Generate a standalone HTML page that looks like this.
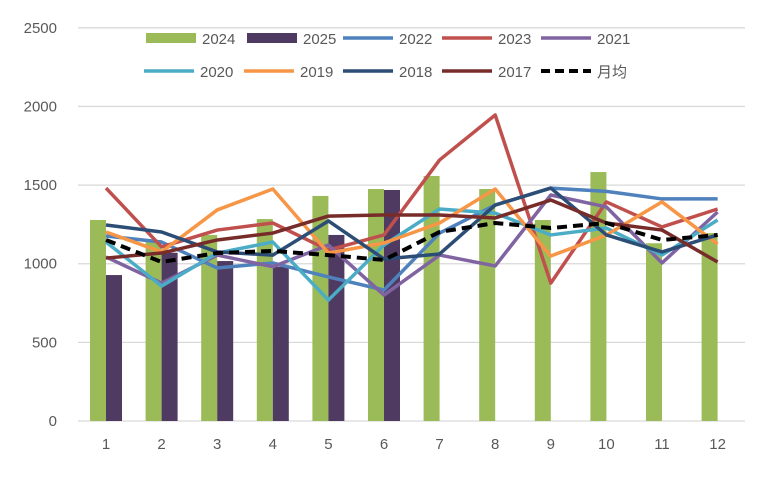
<!DOCTYPE html>
<html><head><meta charset="utf-8"><style>
body{margin:0;background:#fff;font-family:"Liberation Sans","Noto Sans CJK SC",sans-serif;}
svg text{font-family:"Liberation Sans","Noto Sans CJK SC",sans-serif;font-size:15px;fill:#595959;}
</style></head><body>
<svg id="chart" width="760" height="479" xmlns="http://www.w3.org/2000/svg"></svg>
<script>
const categories=[1,2,3,4,5,6,7,8,9,10,11,12];
const yTicks=[0,500,1000,1500,2000,2500];
const bars2024=[1278,1150,1183,1284,1431,1475,1558,1475,1278,1583,1130,1195];
const bars2025=[928,1070,1017,981,1183,1469];
const s2022=[1176,1138,973,1005,916,833,1195,1373,1481,1460,1412,1412];
const s2023=[1481,1107,1214,1259,1087,1183,1660,1946,877,1393,1234,1348];
const s2021=[1043,877,1055,981,1119,801,1055,986,1437,1361,1005,1329];
const s2020=[1138,858,1068,1138,769,1119,1348,1322,1183,1227,1055,1278];
const s2019=[1202,1075,1342,1475,1068,1132,1259,1475,1049,1183,1393,1125];
const s2018=[1246,1202,1075,1055,1272,1030,1062,1373,1481,1183,1075,1183];
const s2017=[1036,1068,1151,1195,1303,1310,1310,1291,1405,1259,1214,1011];
const sAvg=[1151,1011,1068,1081,1055,1024,1202,1259,1227,1259,1151,1183];
const NS="http://www.w3.org/2000/svg";
const svg=document.getElementById('chart');
function y(v){return 421-v*0.15727;}
function x(i){return 106+i*55.6;}
function mk(tag,attrs,parent){const e=document.createElementNS(NS,tag);for(const k in attrs)e.setAttribute(k,attrs[k]);(parent||svg).appendChild(e);return e;}
yTicks.forEach(t=>{
  const l=mk('line',{x1:78,x2:745,y1:y(t),y2:y(t),stroke:'#d9d9d9','stroke-width':1.3});
  
  
  const tx=mk('text',{x:57,y:y(t)+5,'text-anchor':'end'});tx.textContent=t;
  
  
});
categories.forEach((c,i)=>{
  const tx=mk('text',{x:x(i),y:449,'text-anchor':'middle'});tx.textContent=c;
  
  
});
bars2024.forEach((v,i)=>{
  const r=mk('rect',{x:x(i)-16,y:y(v),width:16,height:421-y(v),fill:'#9BBB59'});
  
  
});
bars2025.forEach((v,i)=>{
  const r=mk('rect',{x:x(i),y:y(v),width:16,height:421-y(v),fill:'#4F3A62'});
  
  
});
const series=[['2022',s2022,'#4F81BD'],['2023',s2023,'#C0504D'],['2021',s2021,'#8064A2'],['2020',s2020,'#4BACC6'],['2019',s2019,'#F79646'],['2018',s2018,'#2C4D75'],['2017',s2017,'#772C2A']];
series.forEach(s=>{
  const p=mk('polyline',{points:s[1].map((v,i)=>x(i)+','+y(v)).join(' '),fill:'none',stroke:s[2],'stroke-width':3.5,'stroke-linejoin':'round'});
  
  
});
const a=mk('polyline',{points:sAvg.map((v,i)=>x(i)+','+y(v)).join(' '),fill:'none',stroke:'#000','stroke-width':4,'stroke-dasharray':'10 6'});


const legend=[['2024',146,38,'bar','#9BBB59'],['2025',247,38,'bar','#4F3A62'],['2022',343,38,'line','#4F81BD'],['2023',442,38,'line','#C0504D'],['2021',541,38,'line','#8064A2'],
['2020',144,71,'line','#4BACC6'],['2019',244,71,'line','#F79646'],['2018',343,71,'line','#2C4D75'],['2017',442,71,'line','#772C2A'],['月均',541,71,'dash','#000']];
legend.forEach(l=>{
  const g=mk('g',{});
  
  
  if(l[3]==='bar')mk('rect',{x:l[1],y:l[2]-5,width:50,height:10,fill:l[4]},g);
  else mk('line',{x1:l[1],x2:l[1]+50,y1:l[2],y2:l[2],stroke:l[4],'stroke-width':l[3]==='dash'?4:3.5,'stroke-dasharray':l[3]==='dash'?'9 5':'none'},g);
  const t=mk('text',{x:l[1]+56,y:l[2]+6},g);t.textContent=l[0];
});
</script>
</body></html>
